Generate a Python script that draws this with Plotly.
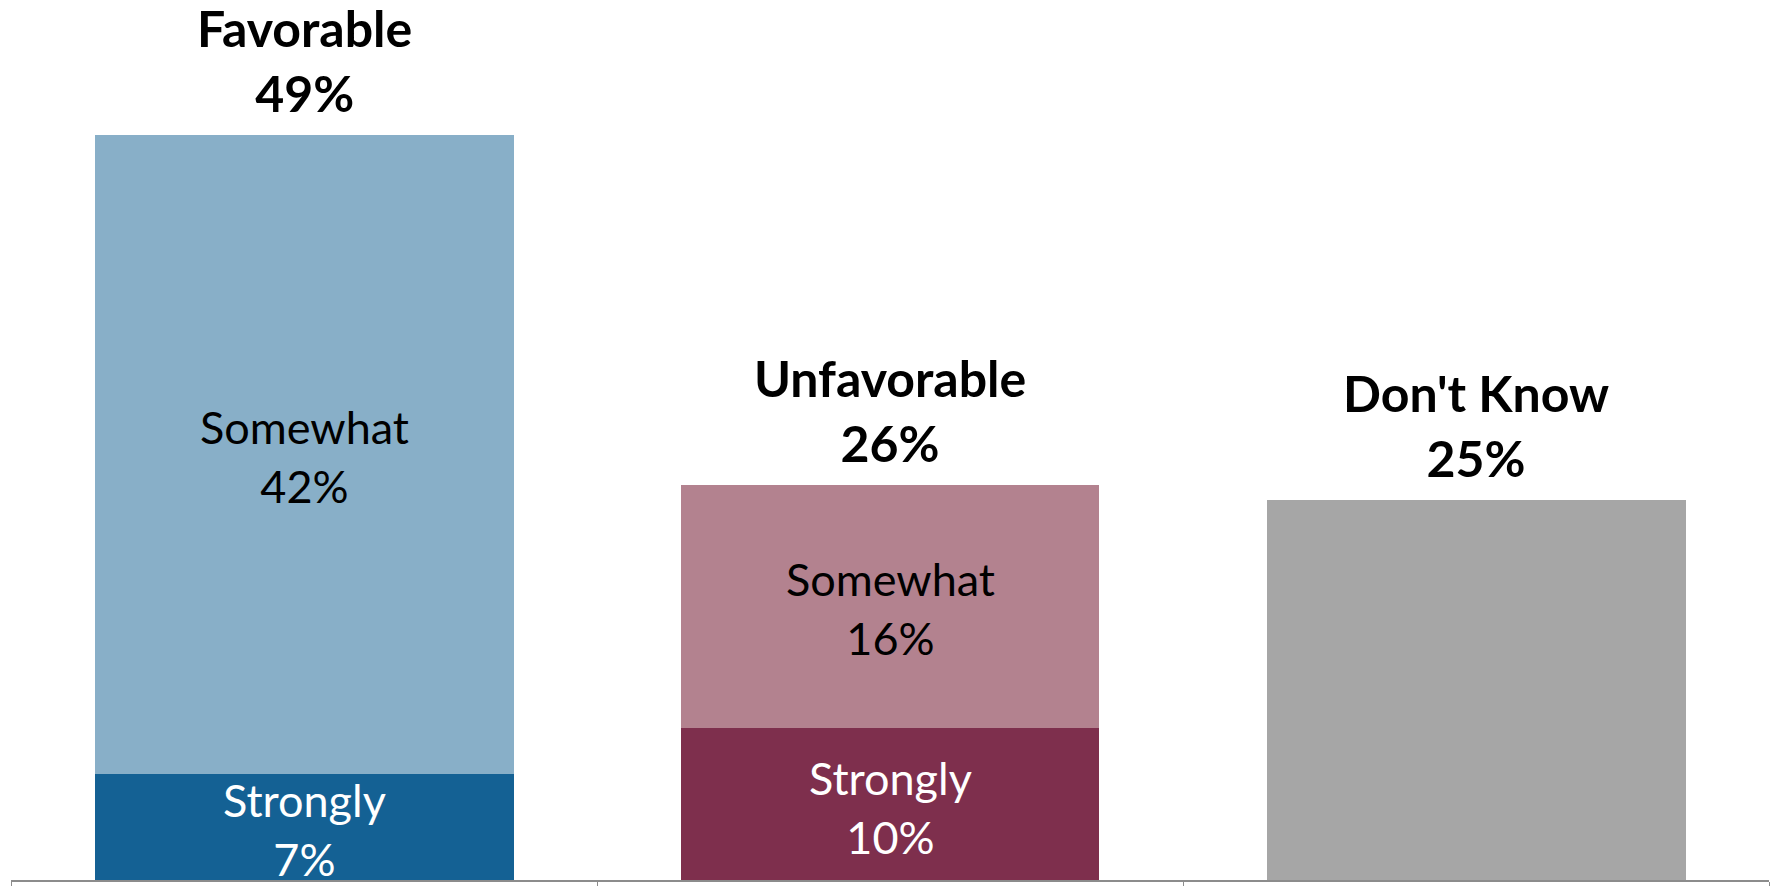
import plotly.graph_objects as go

categories = ["Favorable", "Unfavorable", "Don't Know"]
strongly = [7, 10, None]
somewhat = [42, 16, None]
dont_know = [None, None, 25]
totals = [49, 26, 25]
top_labels = ["Favorable", "Unfavorable", "Don't Know"]

strong_colors = ["#146194", "#7E2F4D", "#A6A6A6"]
some_colors = ["#88AFC8", "#B3828F", "#A6A6A6"]

fig = go.Figure()
fig.add_trace(go.Bar(x=categories, y=strongly, marker=dict(color=strong_colors, line=dict(width=0)), hoverinfo="skip"))
fig.add_trace(go.Bar(x=categories, y=somewhat, marker=dict(color=some_colors, line=dict(width=0)), hoverinfo="skip"))
fig.add_trace(go.Bar(x=categories, y=dont_know, marker=dict(color="#A6A6A6", line=dict(width=0)), hoverinfo="skip"))

FONT = "Lato, 'Open Sans', sans-serif"
annotations = []
for i, c in enumerate(categories):
    annotations.append(dict(
        x=c, y=totals[i], xref="x", yref="y", yanchor="bottom", yshift=10,
        text=f"<b>{top_labels[i]}</b><br><b>{totals[i]}%</b>", showarrow=False,
        font=dict(family=FONT, size=50, color="#000000")))
    if strongly[i] is not None:
        annotations.append(dict(
            x=c, y=strongly[i] / 2, xref="x", yref="y", yshift=-3,
            text=f"Strongly<br>{strongly[i]}%", showarrow=False,
            font=dict(family=FONT, size=45, color="#FFFFFF")))
    if somewhat[i] is not None:
        annotations.append(dict(
            x=c, y=strongly[i] + somewhat[i] / 2, xref="x", yref="y", yshift=-2,
            text=f"Somewhat<br>{somewhat[i]}%", showarrow=False,
            font=dict(family=FONT, size=45, color="#000000")))

fig.update_layout(
    width=1775, height=886,
    margin=dict(l=11, r=6, t=0, b=3),
    barmode="stack", bargap=0.285,
    showlegend=False,
    plot_bgcolor="#FFFFFF", paper_bgcolor="#FFFFFF",
    annotations=annotations,
    xaxis=dict(showticklabels=False, showline=True, linecolor="#8C8C8C", linewidth=2,
               ticks="outside", tickson="boundaries", ticklen=6, tickcolor="#8C8C8C",
               showgrid=False, zeroline=False),
    yaxis=dict(range=[0, 57.9], visible=False, showgrid=False, zeroline=False),
)
fig.write_html("out.html", config={"displayModeBar": False},
               post_script="document.body.style.margin='0';")
